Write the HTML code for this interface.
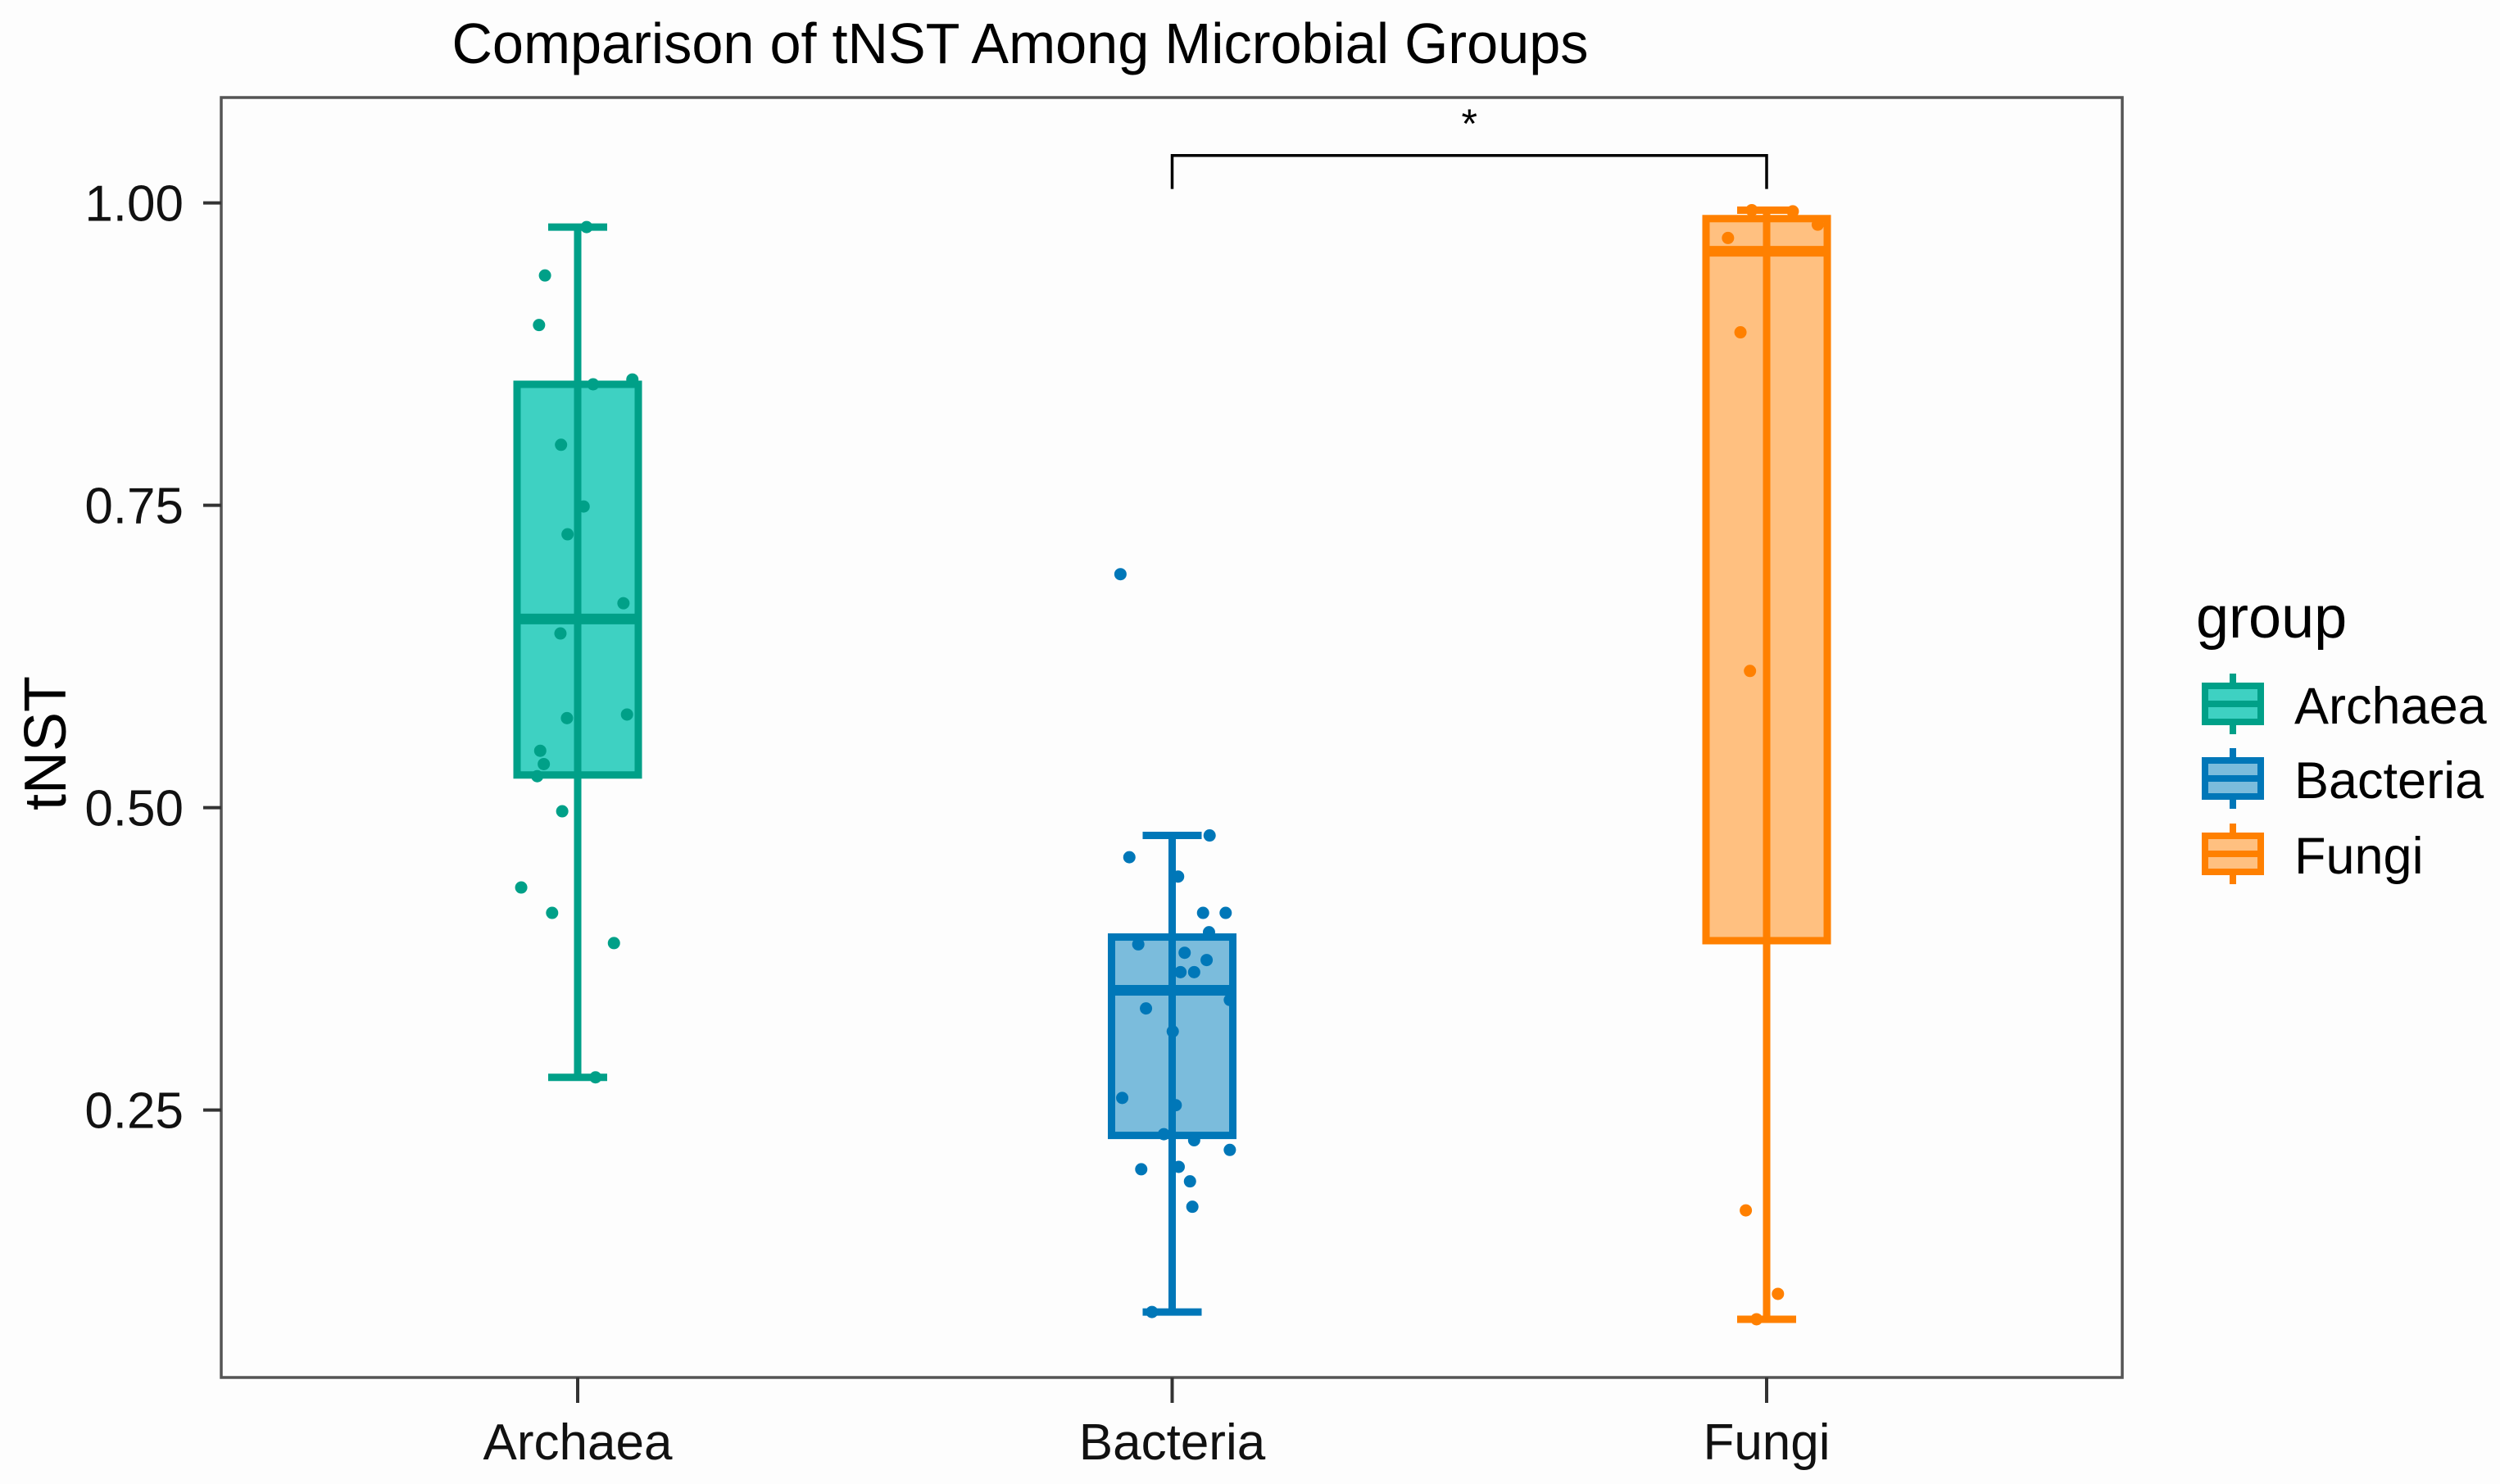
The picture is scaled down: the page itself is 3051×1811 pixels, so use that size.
<!DOCTYPE html>
<html><head><meta charset="utf-8"><style>
html,body{margin:0;padding:0;background:#fdfdfd;}
svg{display:block;font-family:"Liberation Sans",Arial,sans-serif;}
</style></head><body>
<svg id="chart" width="3051" height="1811" viewBox="0 0 3051 1811" xmlns="http://www.w3.org/2000/svg">
<rect x="0" y="0" width="3051" height="1811" fill="#fdfdfd"/>
<text x="1245" y="77" font-size="70" text-anchor="middle" textLength="1387" lengthAdjust="spacingAndGlyphs" fill="#000">Comparison of tNST Among Microbial Groups</text>
<text transform="translate(80,907) rotate(-90)" font-size="72" text-anchor="middle" fill="#000">tNST</text>
<g id="plot"></g>
</svg>
<script>
const categories = ["Archaea","Bacteria","Fungi"];
const whiskerLow = [0.277, 0.083, 0.077];
const q1 = [0.527, 0.229, 0.390];
const medians = [0.656, 0.349, 0.960];
const q3 = [0.850, 0.393, 0.987];
const whiskerHigh = [0.980, 0.477, 0.994];
const archaeaPoints = [0.980,0.940,0.899,0.850,0.854,0.800,0.749,0.726,0.669,0.644,0.574,0.577,0.547,0.536,0.526,0.497,0.434,0.413,0.388,0.277];
const archaeaJitter = [0.015,-0.055,-0.065,0.026,0.092,-0.028,0.010,-0.017,0.077,-0.029,-0.018,0.083,-0.063,-0.057,-0.068,-0.026,-0.095,-0.043,0.061,0.030];
const bacteriaPoints = [0.477,0.459,0.443,0.413,0.413,0.397,0.387,0.380,0.374,0.364,0.364,0.341,0.334,0.315,0.260,0.254,0.230,0.225,0.217,0.201,0.203,0.191,0.170,0.083,0.693];
const bacteriaJitter = [0.063,-0.072,0.010,0.052,0.090,0.062,-0.057,0.021,0.058,0.014,0.037,0.097,-0.044,0.001,-0.084,0.006,-0.014,0.037,0.097,-0.052,0.011,0.030,0.034,-0.034,-0.087];
const fungiPoints = [0.994,0.993,0.982,0.971,0.893,0.613,0.167,0.098,0.077];
const fungiJitter = [-0.025,0.044,0.086,-0.065,-0.044,-0.028,-0.035,0.019,-0.017];
const yTicks = [0.25,0.50,0.75,1.00];
const yTickLabels = ["0.25","0.50","0.75","1.00"];
const sigLabel = "*";

const NS="http://www.w3.org/2000/svg";
const L=270,R=2590,T=119,B=1681;
const y0=247.6, pxPerUnit=1476;
function yS(v){return y0+(1-v)*pxPerUnit;}
const band=725.5, xStart=705;
function xS(i){return xStart+i*band;}
const strokeC=["#00A088","#0077B8","#FF8000"];
const fillC=["#3ED1C2","#7BBCDC","#FFC080"];
const pts=[archaeaPoints,bacteriaPoints,fungiPoints];
const jit=[archaeaJitter,bacteriaJitter,fungiJitter];
const g=document.getElementById('plot');
function mk(tag,attrs,parent){const e=document.createElementNS(NS,tag);for(const k in attrs)e.setAttribute(k,attrs[k]);(parent||g).appendChild(e);return e;}

let e=mk('rect',{x:L,y:T,width:R-L,height:B-T,fill:"#fdfdfd",stroke:"#555",'stroke-width':3.5});



yTicks.forEach((v,i)=>{
  let t=mk('line',{x1:L-22,x2:L,y1:yS(v),y2:yS(v),stroke:"#333",'stroke-width':4});
  
  
  let tx=mk('text',{x:224,y:yS(v)+22,'font-size':62,'text-anchor':'end',fill:"#111"});
  tx.textContent=yTickLabels[i];
  
  
});
categories.forEach((c,i)=>{
  let t=mk('line',{x1:xS(i),x2:xS(i),y1:B,y2:B+31,stroke:"#333",'stroke-width':4});
  
  
  let tx=mk('text',{x:xS(i),y:1781,'font-size':62,'text-anchor':'middle',fill:"#111"});
  tx.textContent=c;
  
  
});

categories.forEach((c,i)=>{
  const cx=xS(i), hw=74, cap=36;
  const grp=mk('g',{});
  
  
  let w=mk('line',{x1:cx,x2:cx,y1:yS(whiskerHigh[i]),y2:yS(whiskerLow[i]),stroke:strokeC[i],'stroke-width':9},grp);
  
  
  [whiskerHigh[i],whiskerLow[i]].forEach(v=>{
    let cp=mk('line',{x1:cx-cap,x2:cx+cap,y1:yS(v),y2:yS(v),stroke:strokeC[i],'stroke-width':9},grp);
    
    
  });
  let b=mk('rect',{x:cx-hw,y:yS(q3[i]),width:2*hw,height:yS(q1[i])-yS(q3[i]),fill:fillC[i],stroke:strokeC[i],'stroke-width':9},grp);
  
  
  let wi=mk('line',{x1:cx,x2:cx,y1:yS(q3[i]),y2:yS(q1[i]),stroke:strokeC[i],'stroke-width':9},grp);
  
  
  let m=mk('line',{x1:cx-hw,x2:cx+hw,y1:yS(medians[i]),y2:yS(medians[i]),stroke:strokeC[i],'stroke-width':13},grp);
  
  
  pts[i].forEach((v,k)=>{
    let p=mk('circle',{cx:cx+jit[i][k]*band,cy:yS(v),r:7.5,fill:strokeC[i]},grp);
    
    
  });
});

// significance bracket
const by=189.8, be=230.6;
let br=mk('path',{d:`M${xS(1)},${be} V${by} H${xS(2)} V${be}`,fill:"none",stroke:"#000",'stroke-width':3.5});


let st=mk('text',{x:(xS(1)+xS(2))/2,y:168,'font-size':50,'text-anchor':'middle',fill:"#000"});
st.textContent=sigLabel;



// legend
const lg=mk('g',{});


let lt=mk('text',{x:2680,y:778,'font-size':72,fill:"#000"},lg);
lt.textContent="group";


const keyY=[859,950,1042];
categories.forEach((c,i)=>{
  const ent=mk('g',{},lg);
  
  
  const kx=2725, ky=keyY[i];
  mk('line',{x1:kx,x2:kx,y1:ky-37,y2:ky+37,stroke:strokeC[i],'stroke-width':8},ent);
  mk('rect',{x:kx-34,y:ky-22,width:68,height:44,fill:fillC[i],stroke:strokeC[i],'stroke-width':8},ent);
  mk('line',{x1:kx-34,x2:kx+34,y1:ky,y2:ky,stroke:strokeC[i],'stroke-width':8},ent);
  let t=mk('text',{x:2800,y:ky+24,'font-size':63,fill:"#000"},ent);
  t.textContent=c;
  
  
});
</script>
</body></html>
